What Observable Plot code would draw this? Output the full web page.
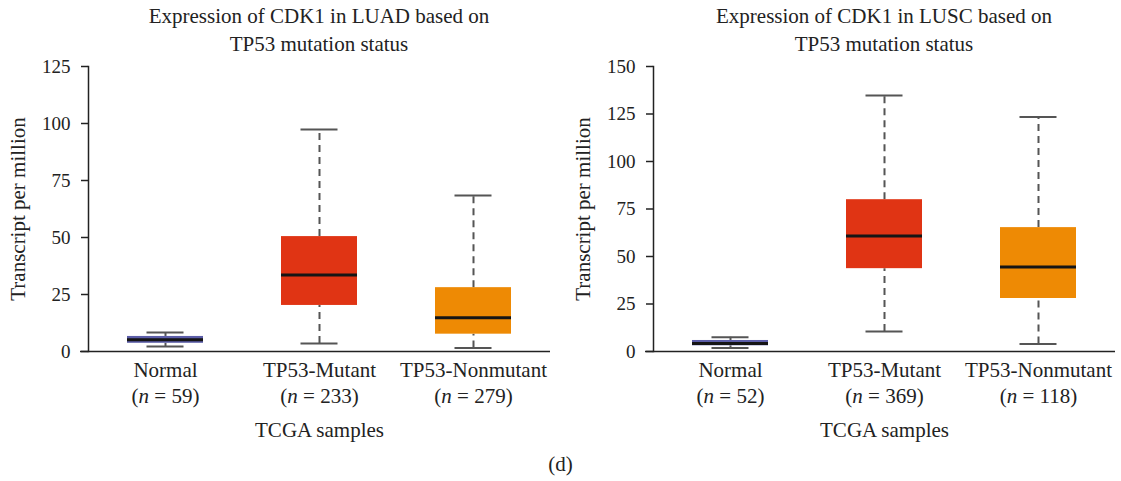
<!DOCTYPE html>
<html>
<head>
<meta charset="utf-8">
<script src="https://cdn.jsdelivr.net/npm/d3@7"></script>
<script src="https://cdn.jsdelivr.net/npm/@observablehq/plot@0.6"></script>
<style>
  body { margin: 0; background: #fff; }
  #fig { position: relative; width: 1121px; height: 481px; font-family: "Liberation Serif", "Times New Roman", serif; color: #222; overflow: hidden; }
  .title { position: absolute; top: 3px; width: 462px; text-align: center; font-size: 21px; line-height: 27.5px; }
  .panel { position: absolute; top: 56px; }
  #cap { position: absolute; top: 452px; left: 0; width: 1121px; text-align: center; font-size: 21px; }
</style>
</head>
<body>
<div id="fig">
  <div class="title" style="left:88px">Expression of CDK1 in LUAD based on<br>TP53 mutation status</div>
  <div class="title" style="left:653px">Expression of CDK1 in LUSC based on<br>TP53 mutation status</div>
  <div class="panel" id="p1" style="left:0px"></div>
  <div class="panel" id="p2" style="left:565px"></div>
  <div id="cap">(d)</div>
</div>
<script>
// Categories
const groups = ["Normal", "TP53-Mutant", "TP53-Nonmutant"];
const boxColors = ["#5B5DA8", "#E03414", "#EE8A04"];
const yLabel = "Transcript per million";
const xLabel = "TCGA samples";

// LUAD panel (box statistics, transcript per million)
const luadN   = [59, 233, 279];
const luadMin = [2.2, 3.5, 1.5];
const luadQ1  = [3.6, 20.2, 7.6];
const luadMed = [5.1, 33.6, 14.8];
const luadQ3  = [6.6, 50.4, 28.0];
const luadMax = [8.3, 97.4, 68.4];
const luadTicks = [0, 25, 50, 75, 100, 125];

// LUSC panel
const luscN   = [52, 369, 118];
const luscMin = [1.9, 10.5, 3.9];
const luscQ1  = [3.0, 43.6, 27.9];
const luscMed = [4.2, 60.8, 44.5];
const luscQ3  = [5.8, 79.9, 65.2];
const luscMax = [7.5, 134.8, 123.4];
const luscTicks = [0, 25, 50, 75, 100, 125, 150];

function panel(ticks, mins, q1s, meds, q3s, maxs, ns) {
  const rows = groups.map((g, i) => ({g, min: mins[i], q1: q1s[i], med: meds[i], q3: q3s[i], max: maxs[i]}));
  const labelOf = new Map(groups.map((g, i) => [g, `${g}\n(n = ${ns[i]})`]));
  const whisker = {stroke: "#555", strokeWidth: 2};
  const p = Plot.plot({
    width: 556, height: 390,
    marginLeft: 88, marginRight: 6, marginTop: 10, marginBottom: 95,
    style: {fontFamily: "'Liberation Serif', serif", fontSize: "21px", color: "#222", background: "white"},
    x: {type: "band", domain: groups, padding: 0},
    y: {domain: [0, d3.max(ticks)]},
    color: {domain: groups, range: boxColors},
    marks: [
      Plot.ruleX(rows, {x: "g", y1: "q3", y2: "max", ...whisker, strokeDasharray: "7,5"}),
      Plot.ruleX(rows, {x: "g", y1: "min", y2: "q1", ...whisker, strokeDasharray: "7,5"}),
      Plot.tickY(rows, {x: "g", y: "max", insetLeft: 58.5, insetRight: 58.5, ...whisker}),
      Plot.tickY(rows, {x: "g", y: "min", insetLeft: 58.5, insetRight: 58.5, ...whisker}),
      Plot.barY(rows, {x: "g", y1: "q1", y2: "q3", fill: "g", insetLeft: 39, insetRight: 39}),
      Plot.tickY(rows, {x: "g", y: "med", insetLeft: 39, insetRight: 39, stroke: "#151515", strokeWidth: 3}),
      Plot.frame({anchor: "left", stroke: "#222", strokeWidth: 1.5}),
      Plot.ruleY([0], {insetLeft: -8, stroke: "#222", strokeWidth: 1.5}),
      Plot.axisY({ticks, tickSize: 7, tickPadding: 11, fontSize: 19, strokeWidth: 1.5, label: null}),
      Plot.text([yLabel], {text: d => d, frameAnchor: "left", textAnchor: "middle", lineAnchor: "middle",
        rotate: -90, dx: -70, fontSize: 21, fill: "#222"}),
      Plot.axisX({tickSize: 0, tickPadding: 7, tickFormat: g => labelOf.get(g), lineHeight: 1.25, fontSize: 21,
        label: null}),
      Plot.text([xLabel], {text: d => d, frameAnchor: "bottom", lineAnchor: "middle", dy: 79, fontSize: 21, fill: "#222"})
    ]
  });
  // italic "n" in the sample-size line
  p.querySelectorAll('[aria-label="x-axis tick label"] text').forEach(t => {
    const spans = t.querySelectorAll("tspan");
    const last = spans[spans.length - 1];
    if (!last) return;
    const m = last.textContent.match(/^\(n( = .*)$/);
    if (!m) return;
    last.textContent = "(";
    const it = document.createElementNS("http://www.w3.org/2000/svg", "tspan");
    it.setAttribute("font-style", "italic");
    it.textContent = "n";
    last.appendChild(it);
    last.appendChild(document.createTextNode(m[1]));
  });
  return p;
}

document.getElementById("p1").appendChild(panel(luadTicks, luadMin, luadQ1, luadMed, luadQ3, luadMax, luadN));
document.getElementById("p2").appendChild(panel(luscTicks, luscMin, luscQ1, luscMed, luscQ3, luscMax, luscN));
</script>
</body>
</html>
